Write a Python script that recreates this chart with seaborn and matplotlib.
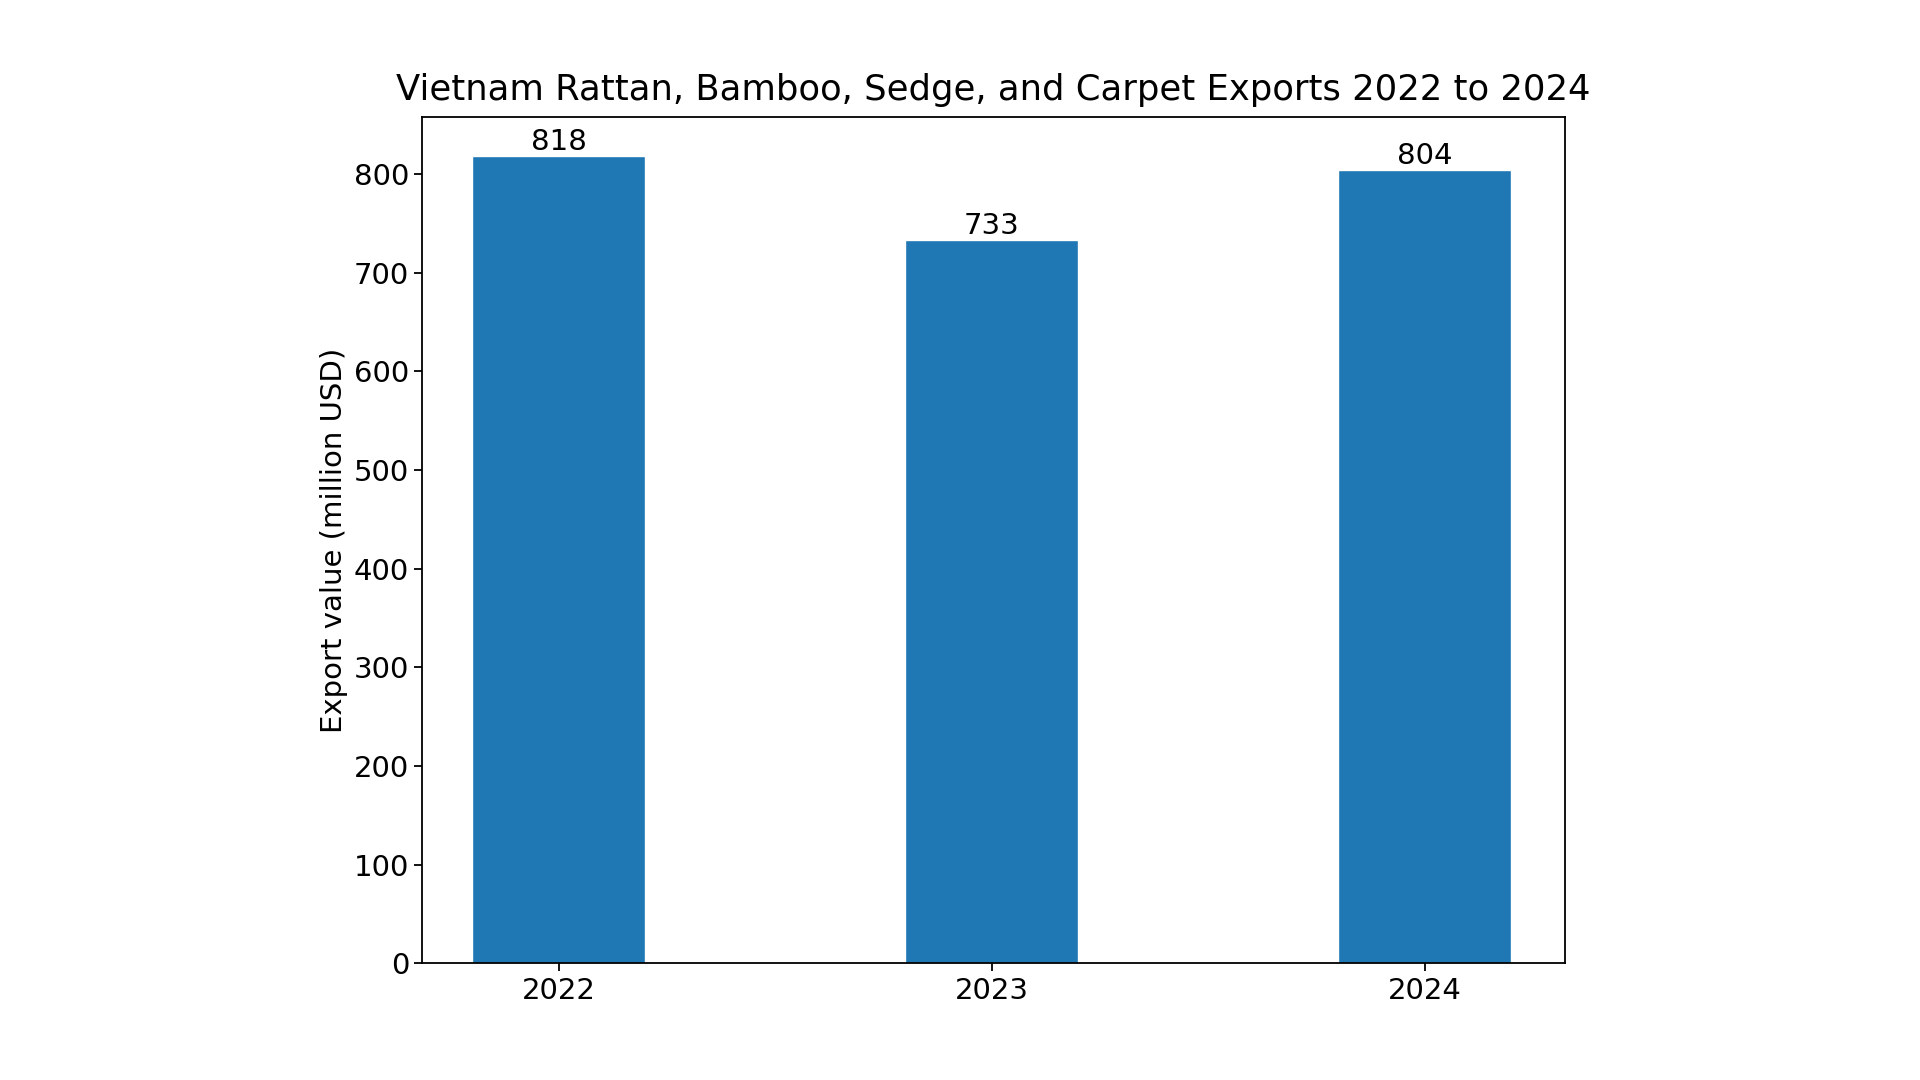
import matplotlib
matplotlib.use("Agg")
import matplotlib.pyplot as plt
import seaborn as sns
import pandas as pd

years = ["2022", "2023", "2024"]
values = [818, 733, 804]

sns.set_style("ticks")
plt.rcParams['font.family'] = ['DejaVu Sans']
plt.rcParams['text.color'] = 'black'
plt.rcParams['axes.labelcolor'] = 'black'
plt.rcParams['xtick.color'] = 'black'
plt.rcParams['ytick.color'] = 'black'
df = pd.DataFrame({"year": years, "value": values})

fig = plt.figure(figsize=(19.2, 10.8), dpi=100)
ax = fig.add_axes([0.22, 0.108, 0.595, 0.784])
sns.barplot(data=df, x="year", y="value", color="#1f77b4", saturation=1, width=0.4, ax=ax)
for c in ax.containers:
    ax.bar_label(c, fmt="%d", fontsize=21)
ax.set_title("Vietnam Rattan, Bamboo, Sedge, and Carpet Exports 2022 to 2024", fontsize=25.5, pad=12, color="black")
ax.set_ylabel("Export value (million USD)", fontsize=21)
ax.set_xlabel("")
ax.set_xlim(-0.315, 2.324)
ax.set_ylim(0, 858)
ax.set_yticks(range(0, 801, 100))
ax.tick_params(labelsize=21, length=6, width=1.3)
for s in ax.spines.values():
    s.set_linewidth(1.3)
    s.set_color("black")
    s.set_visible(True)
fig.savefig("out.png", dpi=100)
